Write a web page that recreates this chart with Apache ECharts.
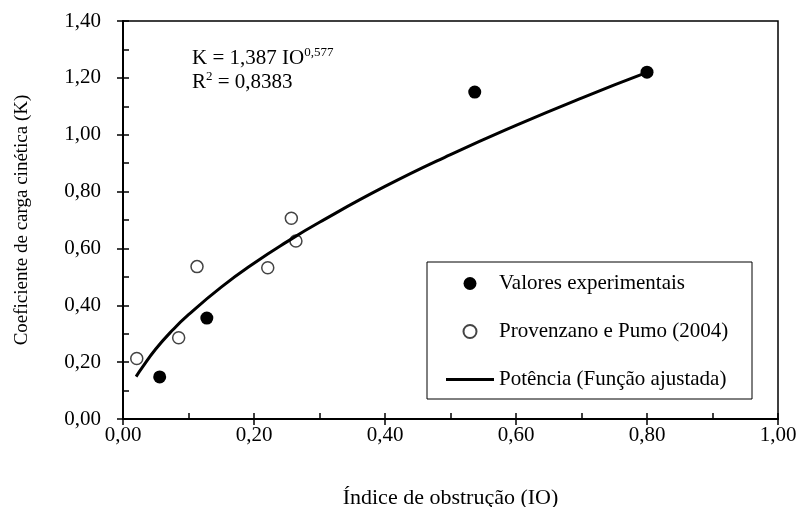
<!DOCTYPE html>
<html>
<head>
<meta charset="UTF-8">
<title>Coeficiente de carga cinética</title>
<script src="https://cdn.jsdelivr.net/npm/echarts@6/dist/echarts.min.js"></script>
<style>
  html, body { margin: 0; padding: 0; background: #fff; }
  #chart { width: 798px; height: 507px; }
</style>
</head>
<body>
<div id="chart"></div>
<script>
// valores
var expIO = [0.056, 0.128, 0.537, 0.800];
var expK = [0.148, 0.355, 1.150, 1.220];

var provIO = [0.021, 0.085, 0.113, 0.221, 0.257, 0.264];
var provK = [0.213, 0.286, 0.536, 0.532, 0.706, 0.626];

// curva ajustada (lida ao longo da linha)
var fitIO = [0.02, 0.03, 0.05, 0.075, 0.10, 0.15, 0.20, 0.25, 0.30, 0.40, 0.50, 0.60, 0.70, 0.80];
var fitK = [0.149, 0.183, 0.246, 0.311, 0.367, 0.464, 0.548, 0.623, 0.692, 0.818, 0.930, 1.033, 1.129, 1.219];

var xTickLabels = ['0,00', '0,20', '0,40', '0,60', '0,80', '1,00'];
var yTickLabels = ['0,00', '0,20', '0,40', '0,60', '0,80', '1,00', '1,20', '1,40'];

var serif = '"Liberation Serif", "Times New Roman", serif';

function pairs(xs, ys) {
  var out = [];
  for (var i = 0; i < xs.length; i++) out.push([xs[i], ys[i]]);
  return out;
}

var myChart = echarts.init(document.getElementById('chart'));

var option = {
  backgroundColor: '#fff',
  animation: false,
  textStyle: { fontFamily: serif, color: '#000' },
  grid: {
    left: 123, right: 20, top: 21, bottom: 88,
    containLabel: false, outerBoundsMode: 'none',
    show: true, borderColor: '#000', borderWidth: 1.5
  },
  xAxis: [{
    type: 'value', min: 0, max: 1, interval: 0.2,
    name: 'Índice de obstrução (IO)', nameLocation: 'middle', nameGap: 68,
    nameTextStyle: { fontFamily: serif, fontSize: 22, color: '#000' },
    axisLine: { lineStyle: { color: '#000', width: 2 } },
    axisTick: { inside: false, length: 6, lineStyle: { color: '#000', width: 1.5 } },
    axisLabel: {
      margin: 6, fontFamily: serif, fontSize: 21, color: '#000',
      formatter: function (v) { return xTickLabels[Math.round(v / 0.2)]; }
    },
    splitLine: { show: false }
  }, {
    type: 'value', min: 0, max: 1, interval: 0.1, position: 'bottom',
    axisLine: { show: false },
    axisTick: { inside: true, length: 6, lineStyle: { color: '#000', width: 1.5 } },
    axisLabel: { show: false },
    splitLine: { show: false }
  }],
  yAxis: [{
    type: 'value', min: 0, max: 1.4, interval: 0.2,
    name: 'Coeficiente de carga cinética (K)', nameLocation: 'middle', nameGap: 91,
    nameTextStyle: { fontFamily: serif, fontSize: 19, color: '#000' },
    axisLine: { show: true, lineStyle: { color: '#000', width: 2 } },
    axisTick: { show: true, inside: false, length: 6, lineStyle: { color: '#000', width: 1.5 } },
    axisLabel: {
      margin: 22, fontFamily: serif, fontSize: 21, color: '#000',
      formatter: function (v) { return yTickLabels[Math.round(v / 0.2)]; }
    },
    splitLine: { show: false }
  }, {
    type: 'value', min: 0, max: 1.4, interval: 0.1, position: 'left',
    axisLine: { show: false },
    axisTick: { show: true, inside: true, length: 6, lineStyle: { color: '#000', width: 1.5 } },
    axisLabel: { show: false },
    splitLine: { show: false }
  }],
  legend: {
    orient: 'vertical',
    left: 427, top: 262,
    padding: [11, 17, 9, 19],
    itemWidth: 48, itemHeight: 13, itemGap: 27,
    borderColor: '#000', borderWidth: 1,
    backgroundColor: '#fff',
    textStyle: { fontFamily: serif, fontSize: 21, color: '#000', lineHeight: 20, width: 236 },
    data: [
      { name: 'Valores experimentais', icon: 'circle' },
      { name: 'Provenzano e Pumo (2004)', icon: 'circle' },
      { name: 'Potência (Função ajustada)', icon: 'path://M0,0 H48 V3 H0 Z' }
    ]
  },
  graphic: [{
    type: 'text', left: 192, top: 46,
    style: {
      text: 'K = 1,387 IO{sup|0,577}\nR{sup|2} = 0,8383',
      fontFamily: serif, fontSize: 21, lineHeight: 24, fill: '#000',
      rich: {
        sup: { fontFamily: serif, fontSize: 13, verticalAlign: 'top', lineHeight: 24, padding: [0, 0, 10, 0] }
      }
    }
  }],
  series: [{
    name: 'Valores experimentais',
    type: 'scatter',
    symbol: 'circle', symbolSize: 13,
    itemStyle: { color: '#000', opacity: 1 },
    z: 3,
    data: pairs(expIO, expK)
  }, {
    name: 'Provenzano e Pumo (2004)',
    type: 'scatter',
    symbol: 'circle', symbolSize: 12,
    itemStyle: { color: '#fff', borderColor: '#444', borderWidth: 1.5, opacity: 1 },
    z: 2,
    data: pairs(provIO, provK)
  }, {
    name: 'Potência (Função ajustada)',
    type: 'line',
    smooth: true,
    symbol: 'none',
    lineStyle: { color: '#000', width: 3 },
    itemStyle: { color: '#000' },
    z: 4,
    data: pairs(fitIO, fitK)
  }]
};

myChart.setOption(option);
</script>
</body>
</html>
